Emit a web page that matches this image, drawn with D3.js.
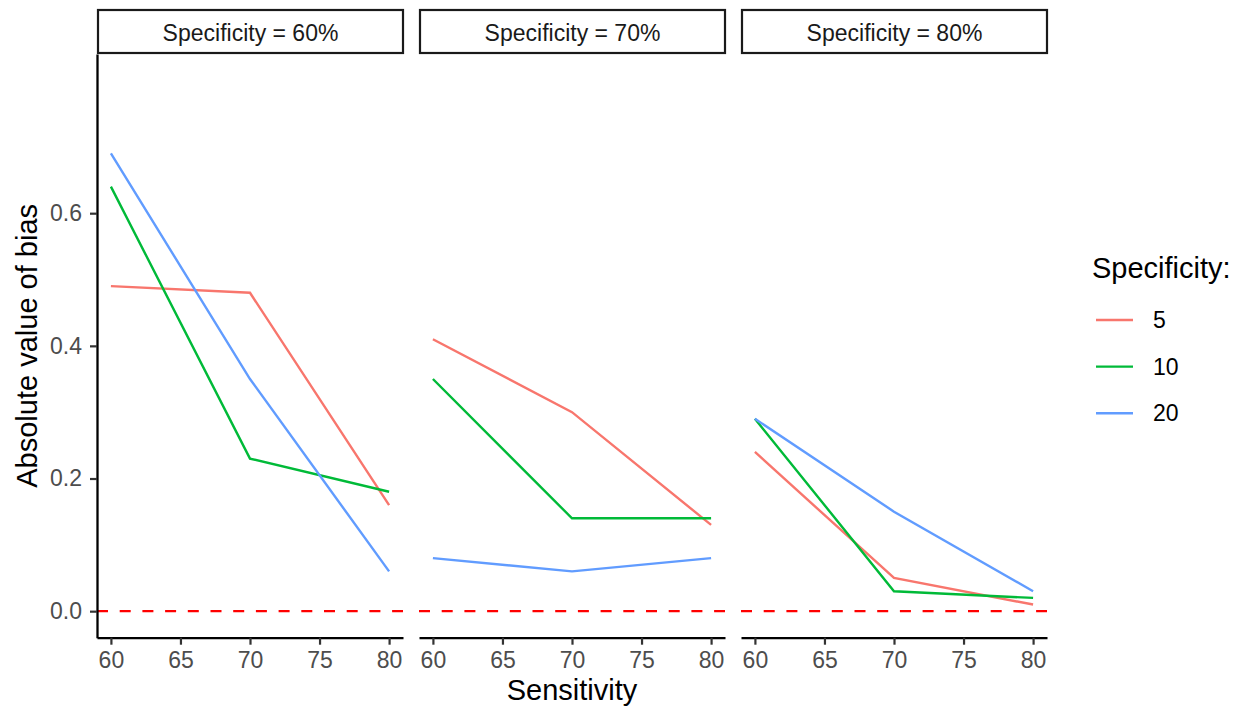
<!DOCTYPE html>
<html>
<head>
<meta charset="utf-8">
<script src="https://cdn.jsdelivr.net/npm/d3@7"></script>
<style>
    body { margin: 0; background: white; }
    text { font-family: "Liberation Sans", Arial, Helvetica, sans-serif; }
</style>
</head>
<body>
<svg width="1244" height="711"></svg>
<script>
// facets and x values
const facetLabels = ["Specificity = 60%", "Specificity = 70%", "Specificity = 80%"];
const sensitivity = [60, 70, 80];
const groups = ["5", "10", "20"];
const groupColors = ["#F8766D", "#00BA38", "#619CFF"];

// absolute bias, one row per facet (60%, 70%, 80%)
const bias5 = [[0.49, 0.48, 0.16], [0.41, 0.30, 0.13], [0.24, 0.05, 0.01]];
const bias10 = [[0.64, 0.23, 0.18], [0.35, 0.14, 0.14], [0.29, 0.03, 0.02]];
const bias20 = [[0.69, 0.35, 0.06], [0.08, 0.06, 0.08], [0.29, 0.15, 0.03]];

const xTicks = [60, 65, 70, 75, 80];
const yTicks = [0, 0.2, 0.4, 0.6];

const biasByGroup = [bias5, bias10, bias20];

let graphic = d3.select("svg");

let panelW = 306,
    panelGap = 16,
    panelLeft = 97,
    panelTop = 54,
    panelBottom = 637.7,
    stripTop = 10;

let y = d3.scaleLinear()
    .domain([-0.04, 0.84])
    .range([panelBottom, panelTop]);

let color = d3.scaleOrdinal()
    .domain(groups)
    .range(groupColors);

let line = d3.line();

facetLabels.forEach(function (label, p) {
    let x0 = panelLeft + p * (panelW + panelGap);
    let x = d3.scaleLinear()
        .domain([59, 81])
        .range([x0, x0 + panelW]);

    // strip
    graphic.append("rect")
        .attr("x", x0 + 1)
        .attr("y", stripTop)
        .attr("width", panelW - 1)
        .attr("height", panelTop - 1 - stripTop)
        .attr("fill", "white")
        .attr("stroke", "#1a1a1a")
        .attr("stroke-width", 2.2);

    graphic.append("text")
        .attr("x", x0 + panelW / 2 + 0.5)
        .attr("y", 40.5)
        .attr("text-anchor", "middle")
        .style("font-size", "23px")
        .style("fill", "#1a1a1a")
        .text(label);

    // zero reference
    graphic.append("line")
        .attr("x1", x(59))
        .attr("x2", x(81))
        .attr("y1", y(0))
        .attr("y2", y(0))
        .attr("stroke", "#FF0000")
        .attr("stroke-width", 2.4)
        .attr("stroke-dasharray", "11 11.7");

    // series
    groups.forEach(function (g, i) {
        let pts = sensitivity.map(function (s, j) {
            return [x(s), y(biasByGroup[i][p][j])];
        });
        graphic.append("path")
            .attr("d", line(pts))
            .attr("fill", "none")
            .attr("stroke", color(g))
            .attr("stroke-width", 2.4);
    });

    // x axis
    let xAxis = graphic.append("g")
        .attr("transform", "translate(0," + panelBottom + ")")
        .call(d3.axisBottom(x).tickValues(xTicks).tickSize(7).tickSizeOuter(0).tickPadding(7));
    xAxis.select(".domain").attr("stroke", "black").attr("stroke-width", 2.3);
    xAxis.selectAll(".tick line").attr("stroke", "#333333").attr("stroke-width", 2.2);
    xAxis.selectAll(".tick text")
        .style("font-size", "23px")
        .style("font-family", "'Liberation Sans', Arial, sans-serif")
        .attr("fill", "#4d4d4d");

    if (p === 0) {
        let yAxis = graphic.append("g")
            .attr("transform", "translate(" + x0 + ",0)")
            .call(d3.axisLeft(y).tickValues(yTicks).tickSize(7).tickSizeOuter(0).tickPadding(8)
                .tickFormat(d3.format(".1f")));
        yAxis.select(".domain").attr("stroke", "black").attr("stroke-width", 2.3);
        yAxis.selectAll(".tick line").attr("stroke", "#333333").attr("stroke-width", 2.2);
        yAxis.selectAll(".tick text")
            .style("font-size", "23px")
            .style("font-family", "'Liberation Sans', Arial, sans-serif")
            .attr("fill", "#4d4d4d");
    }
});

// axis titles
graphic.append("text")
    .attr("x", panelLeft + (3 * panelW + 2 * panelGap) / 2)
    .attr("y", 700)
    .attr("text-anchor", "middle")
    .style("font-size", "29px")
    .text("Sensitivity");

graphic.append("text")
    .attr("transform", "translate(37," + (panelTop + panelBottom) / 2 + ") rotate(-90)")
    .attr("text-anchor", "middle")
    .style("font-size", "29px")
    .text("Absolute value of bias");

// legend
let legend = graphic.append("g").attr("transform", "translate(1092,0)");

legend.append("text")
    .attr("x", 0)
    .attr("y", 278)
    .style("font-size", "29px")
    .text("Specificity:");

let legendY = d3.scalePoint().domain(groups).range([320, 413.3]);

let key = legend.selectAll(".key")
    .data(groups)
    .enter().append("g")
    .attr("class", "key")
    .attr("transform", function (d) {
        return "translate(0," + legendY(d) + ")";
    });

key.append("line")
    .attr("x1", 4)
    .attr("x2", 41)
    .attr("stroke", function (d) {
        return color(d);
    })
    .attr("stroke-width", 2.4);

key.append("text")
    .attr("x", 61)
    .attr("dy", "0.35em")
    .style("font-size", "23px")
    .text(function (d) {
        return d;
    });
</script>
</body>
</html>
